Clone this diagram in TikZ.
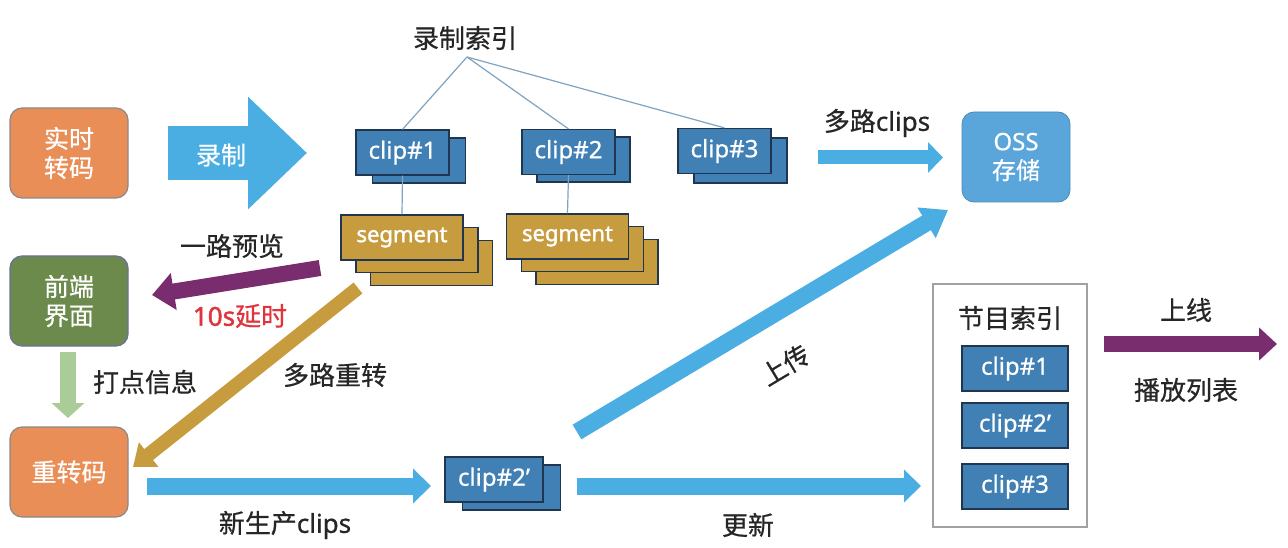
\documentclass[tikz,border=0pt]{standalone}
\usepackage{fontspec}
\setmainfont{Noto Sans}
\newfontfamily\cjk[FakeBold=0.6]{Noto Sans CJK SC}
\newfontfamily\segfont[FakeBold=1.6]{Noto Sans}
\newfontfamily\clipfont[FakeBold=0.7]{Noto Sans}
\usetikzlibrary{arrows.meta}
\definecolor{orangebox}{HTML}{E98E57}
\definecolor{boxgray}{HTML}{8A8A8A}
\definecolor{arrowblue}{HTML}{4BAEE3}
\definecolor{clipblue}{HTML}{4180B4}
\definecolor{clipborder}{HTML}{1F3550}
\definecolor{gold}{HTML}{C69C3E}
\definecolor{ossblue}{HTML}{5AA5DA}
\definecolor{greenbox}{HTML}{6B8A4B}
\definecolor{purplearrow}{HTML}{7A2D6E}
\definecolor{lightgreen}{HTML}{A9CC98}
\definecolor{redtext}{HTML}{E0343C}
\definecolor{thinline}{HTML}{7FA3C0}
\begin{document}
\begin{tikzpicture}[x=1pt,y=-1pt,
  zh/.style={font=\cjk\fontsize{26}{31}\selectfont, text=black!85},
  mixed/.style={font=\clipfont\fontsize{26}{31}\selectfont, text=black!85},
  roundbox/.style={rounded corners=12pt, minimum width=118pt, minimum height=90pt, inner sep=0pt,
    text=white, align=center, font=\cjk\fontsize{25}{29}\selectfont},
  clipbox/.style={fill=clipblue, draw=clipborder, line width=1.2pt, minimum width=93pt,
    minimum height=45pt, inner sep=0pt, text=white, font=\clipfont\fontsize{24}{28}\selectfont},
  segbox/.style={fill=gold, draw=clipborder, line width=1.2pt, minimum width=122pt,
    minimum height=45pt, inner sep=0pt, text=white, font=\segfont\fontsize{22}{26}\selectfont},
  idxline/.style={draw=thinline, line width=1.2pt},
]
\useasboundingbox[fill=white] (0,0) rectangle (1288,548);

% left boxes
\node[roundbox, fill=orangebox, draw=boxgray, line width=1.2pt] (rt) at (69,153) {实时\\转码};
\node[roundbox, fill=greenbox, draw=boxgray!80!blue, line width=1.2pt] (fe) at (69,301) {前端\\界面};
\node[roundbox, fill=orangebox, draw=boxgray, line width=1.2pt, minimum height=90pt] (rz) at (69,472) {重转码};

% OSS
\node[roundbox, fill=ossblue, draw=ossblue!85!black, line width=0.8pt, minimum width=108pt,
  font=\clipfont\fontsize{24}{29}\selectfont] (oss) at (1016,157) {OSS\\{\cjk 存储}};

% record index
\node[zh] (idxtitle) at (465,38) {录制索引};
\coordinate (idx) at (467,57);

% clip stacks
\node[clipbox] (c1b) at (419,160.5) {};
\node[clipbox] (c1) at (402.5,152.5) {clip\#1};
\node[clipbox] (c2b) at (583.5,159.5) {};
\node[clipbox] (c2) at (568.5,152) {clip\#2};
\node[clipbox] (c3b) at (740.5,160.5) {};
\node[clipbox] (c3) at (724.5,151) {clip\#3};

\draw[idxline] (idx) -- (c1.north);
\draw[idxline] (idx) -- (c2.north);
\draw[idxline] (idx) -- (c3.north);

% segment stacks
\node[segbox] (s1c) at (431.5,263) {};
\node[segbox] (s1b) at (417,250) {};
\node[segbox] (s1) at (402,237.5) {segment};
\node[segbox] (s2c) at (597,262) {};
\node[segbox] (s2b) at (582.5,249) {};
\node[segbox] (s2) at (567.5,236.5) {segment};

\draw[idxline] (c1.south) -- (s1.north);
\draw[idxline] (c2.south) -- (s2.north);

% clip#2'
\node[clipbox, minimum width=98pt] (c2pb) at (511.5,487.5) {};
\node[clipbox, minimum width=98pt] (c2p) at (494,479.5) {clip\#2’};

% program index
\node[draw=boxgray!80, line width=1.2pt, minimum width=154pt, minimum height=243pt, inner sep=0pt] (prog) at (1010,405.5) {};
\node[zh] (progtitle) at (1010,318) {节目索引};
\node[clipbox, minimum width=106pt] (p1) at (1015,368.5) {clip\#1};
\node[clipbox, minimum width=106pt] (p2) at (1015,425.5) {clip\#2’};
\node[clipbox, minimum width=106pt] (p3) at (1015,486.5) {clip\#3};

% arrow end coordinates
\coordinate (recS) at (168,153);
\coordinate (recE) at (307,153);
\coordinate (mcS) at (818,157.5);
\coordinate (mcE) at (943,157.5);
\coordinate (pvS) at (320,268);
\coordinate (pvE) at (152,295);
\coordinate (dotS) at (68,352);
\coordinate (dotE) at (68,418);
\coordinate (rzS) at (358,288);
\coordinate (rzE) at (133,467);
\coordinate (npS) at (147,486);
\coordinate (npE) at (431,486);
\coordinate (upS) at (577,432);
\coordinate (upE) at (948,210);
\coordinate (udS) at (577,486);
\coordinate (udE) at (921,486);
\coordinate (olS) at (1104,344);
\coordinate (olE) at (1277,344);

% block arrows
\draw[arrowblue, line width=54pt, -{Triangle[width=109pt,length=59pt]}] (recS) -- (recE);
\node[font=\cjk\fontsize{25}{29}\selectfont, text=white] (reclabel) at (221,155) {录制};
\draw[arrowblue, line width=14pt, -{Triangle[width=30pt,length=15pt]}] (mcS) -- (mcE);
\draw[purplearrow, line width=16pt, -{Triangle[width=36pt,length=22pt]}] (pvS) -- (pvE);
\draw[lightgreen, line width=16pt, -{Triangle[width=32pt,length=15pt]}] (dotS) -- (dotE);
\draw[gold, line width=14pt, -{Triangle[width=30pt,length=20pt]}] (rzS) -- (rzE);
\draw[arrowblue, line width=17pt, -{Triangle[width=34pt,length=18pt]}] (npS) -- (npE);
\draw[arrowblue, line width=17pt, -{Triangle[width=34pt,length=25pt]}] (upS) -- (upE);
\draw[arrowblue, line width=17pt, -{Triangle[width=32pt,length=17pt]}] (udS) -- (udE);
\draw[purplearrow, line width=16pt, -{Triangle[width=32pt,length=18pt]}] (olS) -- (olE);

% labels
\node[mixed] (lmc) at (877,123) {{\cjk 多路}clips};
\node[zh] (lpv) at (232,246) {一路预览};
\node[mixed, text=redtext, font=\segfont\fontsize{26}{31}\selectfont] (ldelay) at (240,316) {10s{\cjk 延时}};
\node[zh] (ldot) at (145,382) {打点信息};
\node[zh] (lmr) at (335,375) {多路重转};
\node[mixed] (lnp) at (285,525) {{\cjk 新生产}clips};
\node[zh, rotate=31] (lup) at (785,365) {上传};
\node[zh] (lud) at (748,525) {更新};
\node[zh] (lol) at (1186,310) {上线};
\node[zh] (lpl) at (1186,390) {播放列表};
\end{tikzpicture}
\end{document}
